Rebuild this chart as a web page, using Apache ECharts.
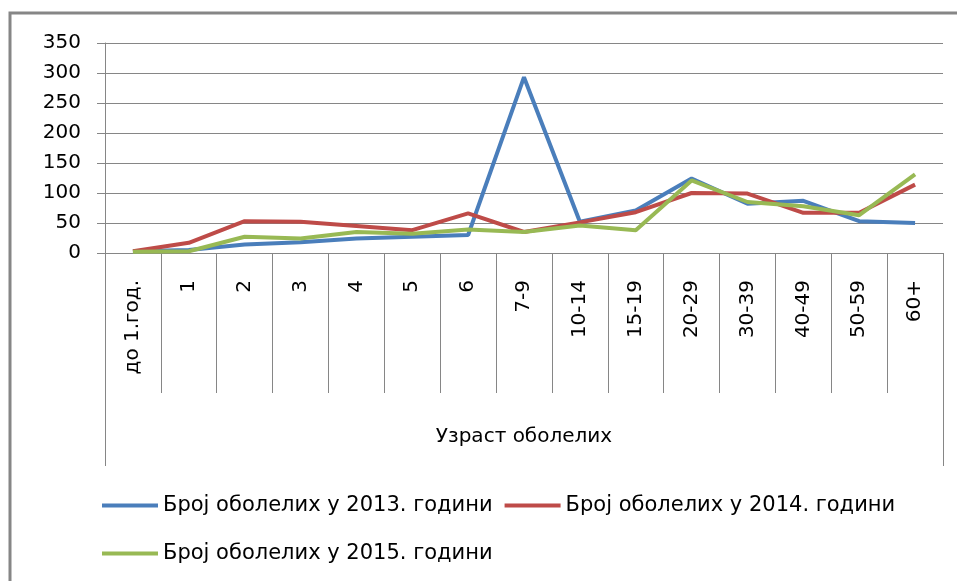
<!DOCTYPE html>
<html>
<head>
<meta charset="utf-8">
<script src="https://cdn.jsdelivr.net/npm/echarts@6/dist/echarts.min.js"></script>
<style>
  html, body { margin: 0; padding: 0; background: #fff; }
  #chart { width: 957px; height: 581px; }
</style>
</head>
<body>
<div id="chart"></div>
<script>
// узрасне групе
const categories = ['до 1.год.', '1', '2', '3', '4', '5', '6', '7-9', '10-14', '15-19', '20-29', '30-39', '40-49', '50-59', '60+']
const y2013 = [3, 5, 14, 18, 24, 27, 30, 293, 52, 71, 124, 82, 87, 53, 50]
const y2014 = [3, 17, 53, 52, 45, 38, 66, 35, 51, 68, 100, 99, 67, 67, 114]
const y2015 = [2, 3, 27, 24, 35, 32, 39, 35, 46, 38, 121, 85, 78, 63, 131]
const yTicks = [0, 50, 100, 150, 200, 250, 300, 350]
const seriesNames = [
  'Број оболелих у 2013. години',
  'Број оболелих у 2014. години',
  'Број оболелих у 2015. години'
]
const axisTitle = 'Узраст оболелих'

const gray = '#868686'
const font = 'DejaVu Sans'
const chart = echarts.init(document.getElementById('chart'))

const legendText = { fontSize: 21, fontFamily: font, color: '#000' }

const option = {
  backgroundColor: '#fff',
  animation: false,
  textStyle: { fontFamily: font, color: '#000' },
  grid: {
    left: 105,
    right: 14,
    top: 43,
    bottom: 328
  },
  legend: [{
    data: seriesNames.slice(0, 2),
    left: 97,
    top: 490,
    icon: 'rect',
    itemWidth: 56,
    itemHeight: 4,
    itemGap: 12,
    textStyle: legendText
  }, {
    data: seriesNames.slice(2),
    left: 97,
    top: 538,
    icon: 'rect',
    itemWidth: 56,
    itemHeight: 4,
    textStyle: legendText
  }],
  xAxis: [{
    type: 'category',
    data: categories,
    boundaryGap: true,
    axisLine: { lineStyle: { color: gray } },
    axisTick: { show: true, interval: 0, length: 140, lineStyle: { color: gray } },
    axisLabel: {
      interval: 0,
      rotate: 90,
      margin: 27,
      fontSize: 20,
      fontFamily: font,
      color: '#000'
    }
  }, {
    // кутија за наслов осе
    type: 'category',
    data: [axisTitle],
    position: 'bottom',
    boundaryGap: true,
    axisLine: { show: false },
    axisTick: { show: true, length: 213, lineStyle: { color: gray } },
    axisLabel: {
      margin: 174,
      fontSize: 20,
      fontFamily: font,
      color: '#000'
    }
  }],
  yAxis: {
    type: 'value',
    min: yTicks[0],
    max: yTicks[yTicks.length - 1],
    interval: yTicks[1] - yTicks[0],
    axisLine: { show: true, lineStyle: { color: gray } },
    axisTick: { show: true, length: 8, lineStyle: { color: gray } },
    axisLabel: { margin: 24, fontSize: 20, fontFamily: font, color: '#000' },
    splitLine: { lineStyle: { color: gray, width: 1 } }
  },
  graphic: [{
    type: 'polyline',
    shape: { points: [[10, 700], [10, 13], [1000, 13]] },
    style: { fill: null, stroke: gray, lineWidth: 3 },
    silent: true
  }],
  series: [{
    name: seriesNames[0],
    type: 'line',
    data: y2013,
    symbol: 'none',
    itemStyle: { color: '#4A7EBB' },
    lineStyle: { width: 4, color: '#4A7EBB' }
  }, {
    name: seriesNames[1],
    type: 'line',
    data: y2014,
    symbol: 'none',
    itemStyle: { color: '#BE4B48' },
    lineStyle: { width: 4, color: '#BE4B48' }
  }, {
    name: seriesNames[2],
    type: 'line',
    data: y2015,
    symbol: 'none',
    itemStyle: { color: '#98B954' },
    lineStyle: { width: 4, color: '#98B954' }
  }]
}

chart.setOption(option)
</script>
</body>
</html>
